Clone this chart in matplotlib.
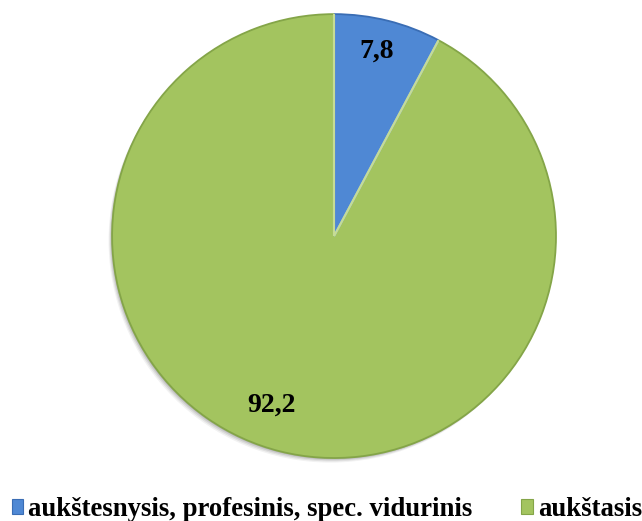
import matplotlib
matplotlib.use("Agg")
import matplotlib.pyplot as plt
import numpy as np
from matplotlib.patches import Patch, Circle, Arc

categories = ["aukštesnysis, profesinis, spec. vidurinis", "aukštasis"]
values = [7.8, 92.2]
labels = ["7,8", "92,2"]
colors = ["#4f88d4", "#a3c45f"]
rim_colors = ["#3a6db4", "#84a548"]
seam_colors = ["#8fb5ea", "#c6dc95"]

plt.rcParams['font.family'] = ['Liberation Serif', 'DejaVu Serif']

fig = plt.figure(figsize=(6.42, 5.21), dpi=100)
ax = fig.add_axes([0.1745, 0.1209, 0.6916, 0.852])

# soft shadow
for k, a in zip(range(4), [0.05, 0.07, 0.09, 0.12]):
    off = 0.004 * (4 - k)
    ax.add_patch(Circle((-off, -off * 1.3), 1.0, facecolor='#000000', edgecolor='none',
                        alpha=a, zorder=0, clip_on=False))

wedges, _ = ax.pie(values, colors=colors, startangle=90, counterclock=False,
                   radius=1.0, wedgeprops=dict(linewidth=0, clip_on=False))
for w, rc, sc in zip(wedges, rim_colors, seam_colors):
    w.set_zorder(2)
    ax.add_patch(Arc((0, 0), 2.0, 2.0, theta1=w.theta1, theta2=w.theta2,
                     color=rc, lw=1.3, zorder=3, clip_on=False))
    for th in (w.theta1, w.theta2):
        t = np.deg2rad(th)
        ax.plot([0, np.cos(t)], [0, np.sin(t)], color=sc, lw=1.5, zorder=3,
                solid_capstyle='butt', clip_on=False)

label_pos = [(0.19, 0.832), (-0.28, -0.76)]
for (x, y), t in zip(label_pos, labels):
    ax.text(x, y, t, ha='center', va='center', fontsize=20, fontweight='bold',
            color='black', zorder=5)

ax.set_xlim(-1, 1)
ax.set_ylim(-1, 1)
ax.set_aspect('equal')
ax.axis('off')

handles = [Patch(facecolor=c, edgecolor=rc, linewidth=0.8) for c, rc in zip(colors, rim_colors)]
leg = fig.legend(handles, categories, loc='center left', bbox_to_anchor=(12 / 642, 0.022), ncol=2,
                 frameon=False, handlelength=0.42, handleheight=0.49, handletextpad=0.19,
                 columnspacing=1.82, borderpad=0, borderaxespad=0,
                 prop=dict(size=19.3, weight='bold'))

fig.savefig("out.png", dpi=100)
